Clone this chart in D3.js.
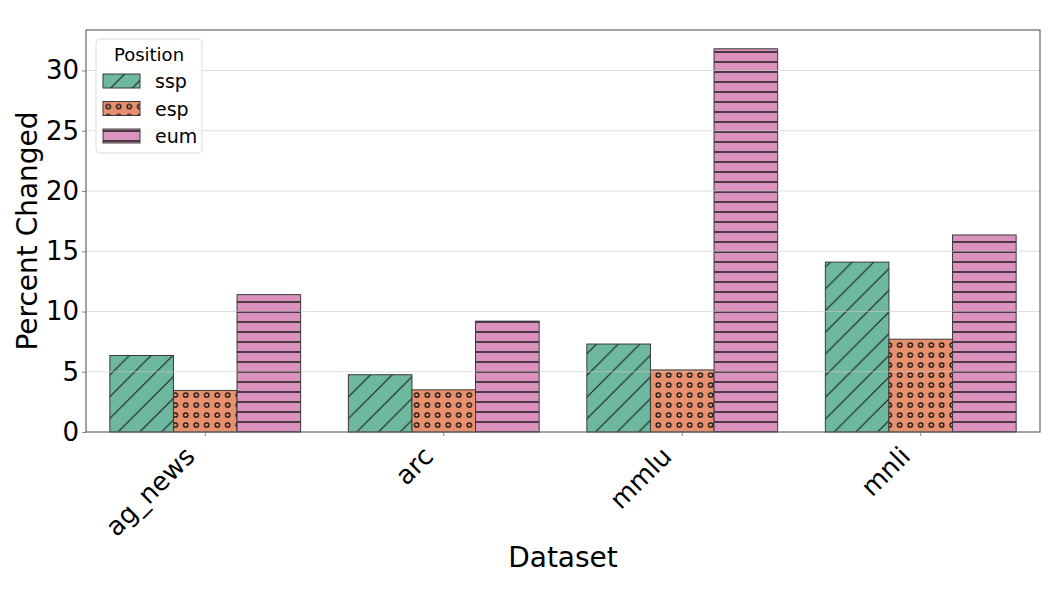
<html>
<head>
  <title></title>
  <script src="https://cdn.jsdelivr.net/npm/d3@7/dist/d3.min.js"></script>
<style type="text/css">
body { margin: 0; background: #fff; }
text { font-family: "DejaVu Sans", sans-serif; }
</style>
</head>
<body>
<script type="text/javascript">
// chart values
var datasets = ['ag_news', 'arc', 'mmlu', 'mnli'];
var positions = ['ssp', 'esp', 'eum'];
var ssp = [6.35, 4.75, 7.3, 14.1];
var esp = [3.45, 3.5, 5.15, 7.7];
var eum = [11.4, 9.2, 31.8, 16.35];
var yTicks = [0, 5, 10, 15, 20, 25, 30];

var colors = ['#6fb8a0', '#e9916f', '#db92bf'];
var hatchIds = ['hatch-diag', 'hatch-dots', 'hatch-horiz'];

var w = 1055, h = 603;
var margin = {top: 30, right: 15, bottom: 171, left: 86};
var iw = w - margin.left - margin.right, ih = h - margin.top - margin.bottom;

var svg = d3.select('body').append('svg')
  .attr('width', w)
  .attr('height', h);

// hatch patterns
var defs = svg.append('defs');
var d = 21.7;
var p = defs.append('pattern').attr('id', 'hatch-diag')
  .attr('patternUnits', 'userSpaceOnUse').attr('width', d).attr('height', d);
p.append('path')
  .attr('d', 'M0,' + d + 'L' + d + ',0M-2,2L2,-2M' + (d - 2) + ',' + (d + 2) + 'L' + (d + 2) + ',' + (d - 2))
  .attr('stroke', '#111').attr('stroke-width', 1);

p = defs.append('pattern').attr('id', 'hatch-dots')
  .attr('patternUnits', 'userSpaceOnUse').attr('width', 10.5).attr('height', 10);
p.append('circle').attr('cx', 5.25).attr('cy', 5).attr('r', 2.2)
  .attr('fill', 'none').attr('stroke', '#111').attr('stroke-width', 1.3);

p = defs.append('pattern').attr('id', 'hatch-horiz')
  .attr('patternUnits', 'userSpaceOnUse').attr('width', 10).attr('height', 10);
p.append('line').attr('x1', 0).attr('x2', 10).attr('y1', 2).attr('y2', 2)
  .attr('stroke', '#1a1a1a').attr('stroke-width', 1.5);

var g = svg.append('g').attr('transform', 'translate(' + margin.left + ',' + margin.top + ')');

var x0 = d3.scaleBand().domain(datasets).range([0, iw]).padding(0);
var x1 = d3.scaleBand().domain(positions).range([0, x0.bandwidth() * 0.8]);
var y = d3.scaleLinear().domain([0, 33.36]).range([ih, 0]);

var series = [ssp, esp, eum];
var rows = [];
datasets.forEach(function(ds, i) {
  positions.forEach(function(pos, j) {
    rows.push({ds: ds, pos: pos, j: j, v: series[j][i]});
  });
});

var offset = x0.bandwidth() * 0.1;

var bars = g.selectAll('g.bar')
  .data(rows).enter()
  .append('g').attr('class', 'bar');
bars.append('rect')
  .attr('x', function(r) { return x0(r.ds) + offset + x1(r.pos); })
  .attr('y', function(r) { return y(r.v); })
  .attr('width', x1.bandwidth())
  .attr('height', function(r) { return ih - y(r.v); })
  .attr('fill', function(r) { return colors[r.j]; });
bars.append('rect')
  .attr('x', function(r) { return x0(r.ds) + offset + x1(r.pos); })
  .attr('y', function(r) { return y(r.v); })
  .attr('width', x1.bandwidth())
  .attr('height', function(r) { return ih - y(r.v); })
  .attr('fill', function(r) { return 'url(#' + hatchIds[r.j] + ')'; })
  .attr('stroke', '#3a3a3a')
  .attr('stroke-width', 1);

// grid lines, drawn over the bars faintly
g.selectAll('line.grid')
  .data(yTicks.slice(1)).enter()
  .append('line').attr('class', 'grid')
  .attr('x1', 0).attr('x2', iw)
  .attr('y1', function(t) { return y(t); })
  .attr('y2', function(t) { return y(t); })
  .attr('stroke', '#c8c8c8')
  .attr('stroke-opacity', 0.6)
  .attr('stroke-width', 1);

// axes
var yAxis = g.append('g').call(d3.axisLeft(y).tickValues(yTicks).tickSize(4).tickPadding(3));
yAxis.select('.domain').remove();
yAxis.selectAll('line').attr('stroke', '#888');
yAxis.selectAll('text').style('font-size', '26px').attr('fill', '#000');

var xAxis = g.append('g').attr('transform', 'translate(0,' + ih + ')')
  .call(d3.axisBottom(x0).tickSize(4).tickPadding(8));
xAxis.select('.domain').remove();
xAxis.selectAll('line').attr('stroke', '#888');
xAxis.selectAll('text')
  .style('font-size', '26px').attr('fill', '#000')
  .attr('text-anchor', 'end')
  .attr('x', 0).attr('y', 0).attr('dy', 0)
  .attr('transform', 'translate(-9,26) rotate(-45)');

// frame
g.append('rect').attr('width', iw).attr('height', ih)
  .attr('fill', 'none').attr('stroke', '#666').attr('stroke-width', 1.2);

// axis titles
svg.append('text')
  .attr('x', margin.left + iw / 2).attr('y', 567)
  .attr('text-anchor', 'middle').style('font-size', '28px')
  .text('Dataset');
svg.append('text')
  .attr('transform', 'translate(37,' + (margin.top + ih / 2) + ') rotate(-90)')
  .attr('text-anchor', 'middle').style('font-size', '28px')
  .text('Percent Changed');

// legend
var lg = svg.append('g').attr('transform', 'translate(96,39)');
lg.append('rect').attr('width', 106).attr('height', 114).attr('rx', 4)
  .attr('fill', '#fff').attr('fill-opacity', 0.85)
  .attr('stroke', '#ddd');
lg.append('text').attr('x', 53).attr('y', 22).attr('text-anchor', 'middle')
  .style('font-size', '18px').text('Position');
var items = lg.selectAll('g.item')
  .data(positions).enter()
  .append('g').attr('class', 'item')
  .attr('transform', function(pos, i) { return 'translate(7,' + (35 + i * 27.5) + ')'; });
items.append('rect').attr('width', 37).attr('height', 14)
  .attr('fill', function(pos, i) { return colors[i]; });
items.append('rect').attr('width', 37).attr('height', 14)
  .attr('fill', function(pos, i) { return 'url(#' + hatchIds[i] + ')'; })
  .attr('stroke', '#3a3a3a');
items.append('text').attr('x', 52).attr('y', 14)
  .style('font-size', '19px').text(function(pos) { return pos; });
</script>
</body>
</html>
